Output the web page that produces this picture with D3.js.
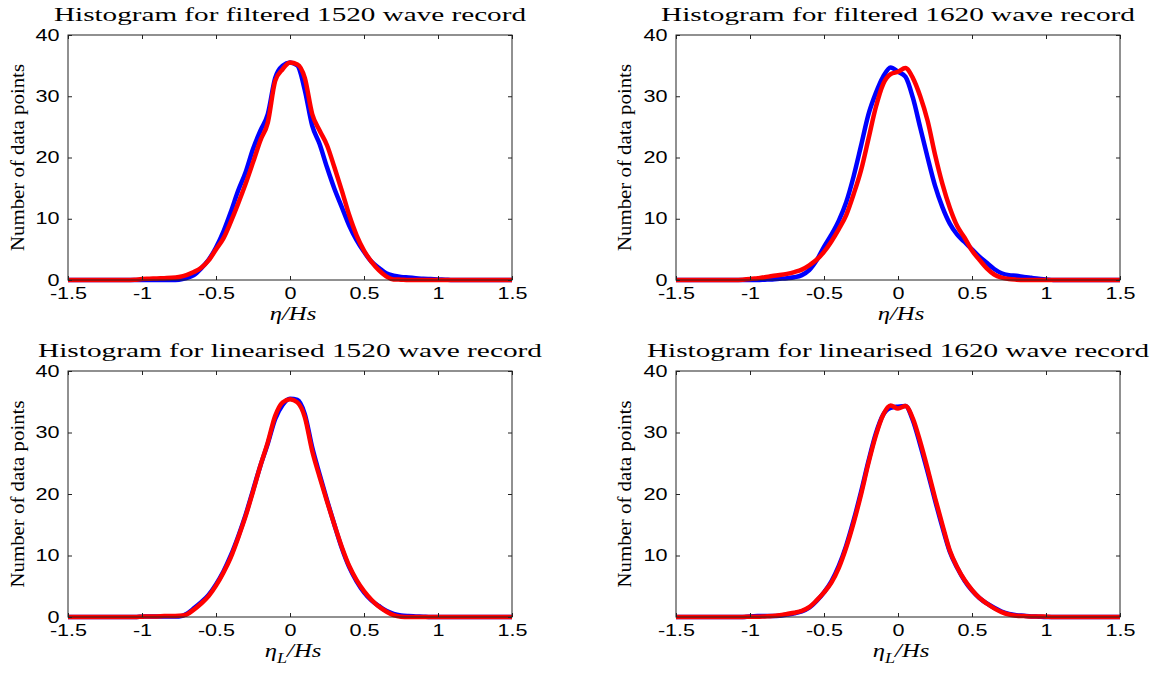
<!DOCTYPE html>
<html>
<head>
<meta charset="utf-8">
<script src="https://cdn.jsdelivr.net/npm/d3@7"></script>
<style>
  body { margin: 0; background: #fff; }
</style>
</head>
<body>
<script>
// eta/Hs bin centres
const eta = [-1.5, -1.1, -1.05, -1.0, -0.95, -0.9, -0.85, -0.8, -0.75, -0.7, -0.65, -0.6, -0.55, -0.5,
  -0.45, -0.4, -0.35, -0.3, -0.25, -0.2, -0.15, -0.1, -0.05, 0, 0.05, 0.1, 0.15, 0.2, 0.25, 0.3,
  0.35, 0.4, 0.45, 0.5, 0.55, 0.6, 0.65, 0.7, 0.75, 0.8, 0.85, 0.9, 0.95, 1.0, 1.05, 1.1, 1.5];

// filtered 1520
const filt1520Blue = [0, 0, 0, 0, 0, 0, 0, 0, 0.05, 0.3, 0.8, 1.9, 3.3, 5.3,
  7.9, 11.1, 14.6, 17.6, 21.4, 24.4, 27.1, 33.0, 35.0, 35.5, 35.0, 31.0, 25.2, 22.2, 18.4, 14.9,
  11.9, 8.9, 6.5, 4.6, 3.0, 2.0, 1.1, 0.7, 0.5, 0.4, 0.3, 0.2, 0.15, 0.1, 0.05, 0, 0];
const filt1520Red = [0, 0, 0.05, 0.15, 0.2, 0.25, 0.3, 0.35, 0.5, 0.8, 1.3, 2.0, 3.2, 5.0,
  6.8, 9.5, 12.5, 15.7, 19.2, 22.8, 25.7, 32.5, 34.4, 35.5, 35.2, 33.0, 27.1, 24.4, 22.0, 18.4,
  14.6, 10.6, 7.3, 4.8, 3.0, 1.6, 0.6, 0.1, 0.05, 0, 0, 0, 0, 0, 0, 0, 0];

// filtered 1620
const filt1620Blue = [0, 0, 0, 0, 0, 0.05, 0.1, 0.2, 0.3, 0.45, 0.8, 1.6, 3.2, 5.4,
  7.4, 9.7, 12.7, 16.9, 21.9, 27.0, 30.5, 33.2, 34.7, 34.0, 33.2, 29.8, 24.9, 20.0, 15.4, 11.9,
  9.2, 7.4, 6.2, 5.0, 3.8, 2.8, 1.8, 1.1, 0.8, 0.7, 0.5, 0.35, 0.2, 0.1, 0, 0, 0];
const filt1620Red = [0, 0, 0.05, 0.15, 0.3, 0.45, 0.65, 0.8, 1.0, 1.3, 1.7, 2.4, 3.3, 4.6,
  6.3, 8.3, 10.6, 14.0, 17.9, 23.0, 28.2, 32.0, 33.6, 34.0, 34.6, 33.0, 30.0, 26.0, 20.5, 15.7,
  11.8, 8.8, 6.9, 4.8, 3.3, 1.9, 0.9, 0.4, 0.15, 0.05, 0, 0, 0, 0, 0, 0, 0];

// linearised 1520
const lin1520Blue = [0, 0, 0, 0.05, 0.1, 0.1, 0.1, 0.1, 0.1, 0.5, 1.4, 2.4, 3.6, 5.3,
  7.4, 10.0, 13.1, 16.6, 20.6, 24.6, 28.2, 32.2, 34.5, 35.5, 35.3, 33.0, 27.6, 23.2, 19.0, 15.0,
  11.2, 8.1, 5.8, 4.0, 2.7, 1.8, 1.0, 0.5, 0.25, 0.15, 0.1, 0.05, 0, 0, 0, 0, 0];
const lin1520Red = [0, 0, 0, 0.05, 0.1, 0.1, 0.15, 0.15, 0.2, 0.4, 1.2, 2.2, 3.4, 5.1,
  7.2, 9.7, 12.9, 16.4, 20.4, 24.6, 28.4, 32.7, 34.9, 35.4, 34.9, 32.5, 27.0, 22.8, 18.8, 15.0,
  11.4, 8.3, 6.0, 4.2, 2.8, 1.7, 0.9, 0.3, 0.05, 0, 0, 0, 0, 0, 0, 0, 0];

// linearised 1620
const lin1620Blue = [0, 0, 0, 0.1, 0.15, 0.15, 0.15, 0.2, 0.4, 0.6, 0.9, 1.5, 2.6, 4.0,
  5.8, 8.3, 11.6, 15.7, 20.3, 25.3, 29.8, 32.9, 34.0, 34.2, 34.3, 32.0, 28.0, 23.6, 19.0, 14.6,
  10.6, 8.0, 5.9, 4.3, 3.1, 2.2, 1.5, 0.9, 0.5, 0.3, 0.2, 0.1, 0.05, 0, 0, 0, 0];
const lin1620Red = [0, 0, 0, 0.05, 0.05, 0.1, 0.15, 0.3, 0.5, 0.7, 1.0, 1.6, 2.7, 4.0,
  5.6, 8.0, 11.3, 15.3, 19.9, 25.0, 29.5, 32.9, 34.4, 33.9, 34.3, 32.3, 28.5, 24.1, 19.4, 15.0,
  10.8, 8.1, 6.0, 4.4, 3.1, 2.2, 1.4, 0.8, 0.4, 0.2, 0.15, 0.1, 0.1, 0.05, 0, 0, 0];

const titles = [
  "Histogram for filtered 1520 wave record",
  "Histogram for filtered 1620 wave record",
  "Histogram for linearised 1520 wave record",
  "Histogram for linearised 1620 wave record"
];
const xTicks = [-1.5, -1, -0.5, 0, 0.5, 1, 1.5];
const yTicksFull = [0, 10, 20, 30, 40];
const yTicksNoZero = [10, 20, 30, 40];

const panels = [
  {title: titles[0], blue: filt1520Blue, red: filt1520Red, yTicks: yTicksFull, sub: false},
  {title: titles[1], blue: filt1620Blue, red: filt1620Red, yTicks: yTicksFull, sub: false},
  {title: titles[2], blue: lin1520Blue, red: lin1520Red, yTicks: yTicksFull, sub: true},
  {title: titles[3], blue: lin1620Blue, red: lin1620Red, yTicks: yTicksNoZero, sub: true}
];

// where each axes box sits on the page
const boxes = [
  {left: 68, right: 512, top: 35, bottom: 280, titleW: 472, ylab: -44},
  {left: 676, right: 1120, top: 35, bottom: 280, titleW: 474, ylab: -45},
  {left: 68, right: 512, top: 371, bottom: 617, titleW: 504, ylab: -44},
  {left: 676, right: 1120, top: 371, bottom: 617, titleW: 502, ylab: -45}
];

const width = 1160, height = 673;
const stretch = 1.35;   // the figure text is wider than normal
const serif = "'Liberation Serif', 'Times New Roman', serif";
const sans = "'Liberation Sans', Arial, sans-serif";

const svg = d3.select("body").append("svg")
  .attr("width", width)
  .attr("height", height);

panels.forEach((p, i) => {
  const b = boxes[i];
  const x = d3.scaleLinear().domain([-1.5, 1.5]).range([b.left, b.right]);
  const y = d3.scaleLinear().domain([0, 40]).range([b.bottom, b.top]);
  const g = svg.append("g");

  const line = d3.line()
    .x((d, k) => x(eta[k]))
    .y(d => y(d))
    .curve(d3.curveMonotoneX);

  g.append("path")
    .attr("d", line(p.blue))
    .attr("fill", "none")
    .attr("stroke", "#0000ff")
    .attr("stroke-width", 4.5)
    .attr("stroke-linejoin", "round");

  g.append("path")
    .attr("d", line(p.red))
    .attr("fill", "none")
    .attr("stroke", "#ff0000")
    .attr("stroke-width", 4.5)
    .attr("stroke-linejoin", "round");

  // box
  g.append("rect")
    .attr("x", b.left).attr("y", b.top)
    .attr("width", b.right - b.left).attr("height", b.bottom - b.top)
    .attr("fill", "none")
    .attr("stroke", "#222")
    .attr("stroke-width", 1);

  const fmt = d => String(d);

  const xa = g.append("g")
    .attr("transform", `translate(0,${b.bottom})`)
    .call(d3.axisBottom(x).tickValues(xTicks).tickSize(-4).tickPadding(8).tickFormat(fmt));
  g.append("g")
    .attr("transform", `translate(0,${b.top})`)
    .call(d3.axisTop(x).tickValues(xTicks).tickSize(-4).tickFormat(""));
  const ya = g.append("g")
    .attr("transform", `translate(${b.left},0)`)
    .call(d3.axisLeft(y).tickValues(p.yTicks).tickSize(-4).tickPadding(6.3).tickFormat(fmt));
  g.append("g")
    .attr("transform", `translate(${b.right},0)`)
    .call(d3.axisRight(y).tickValues(p.yTicks).tickSize(-4).tickFormat(""));

  g.selectAll(".domain").remove();
  g.selectAll(".tick line").attr("stroke", "#222");
  [xa, ya].forEach(a => {
    a.attr("font-family", sans).attr("font-size", 16);
    a.selectAll("text").attr("fill", "#000").attr("transform", `scale(${stretch},1)`);
  });

  const cx = (b.left + b.right) / 2;

  // title
  g.append("text")
    .attr("x", cx)
    .attr("y", b.top - 14)
    .attr("text-anchor", "middle")
    .attr("font-family", serif)
    .attr("font-size", 19)
    .attr("textLength", b.titleW)
    .attr("lengthAdjust", "spacingAndGlyphs")
    .text(p.title);

  // y label
  g.append("text")
    .attr("transform", `translate(${b.left + b.ylab},${(b.top + b.bottom) / 2}) rotate(-90)`)
    .attr("text-anchor", "middle")
    .attr("font-family", serif)
    .attr("font-size", 18)
    .attr("textLength", 187)
    .attr("lengthAdjust", "spacingAndGlyphs")
    .text("Number of data points");

  // x label
  const xl = g.append("text")
    .attr("transform", `translate(${cx + 3},${b.bottom + 40}) scale(1.3,1)`)
    .attr("text-anchor", "middle")
    .attr("font-family", serif)
    .attr("font-style", "italic")
    .attr("font-size", 19);
  xl.append("tspan").text("η");
  if (p.sub) {
    xl.append("tspan").attr("dy", 6).attr("font-size", 14).text("L");
    xl.append("tspan").attr("dy", -6).text("/Hs");
  } else {
    xl.append("tspan").text("/Hs");
  }
});
</script>
</body>
</html>
